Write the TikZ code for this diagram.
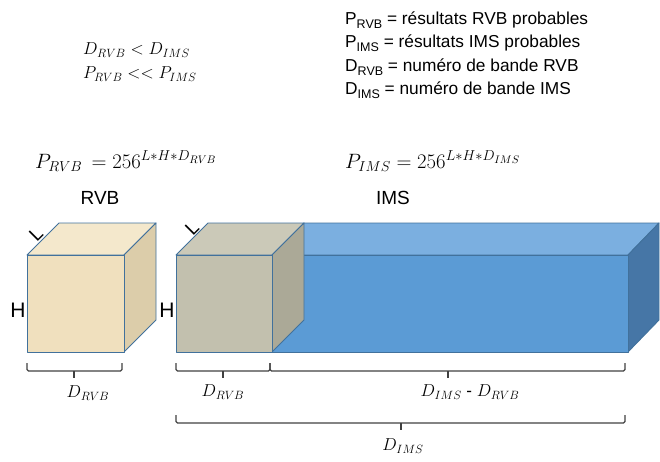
\documentclass[tikz,border=0pt]{standalone}
\usepackage{fontspec}
\setmainfont{Liberation Sans}
\newcommand\lsub[1]{\raisebox{-0.4ex}{\fontsize{12.5}{12.5}\selectfont #1}}
\definecolor{edge}{HTML}{41719C}
\definecolor{beigeF}{HTML}{F0E0BE}
\definecolor{beigeT}{HTML}{F4E8CC}
\definecolor{beigeR}{HTML}{DCCDAA}
\definecolor{grayF}{HTML}{C2C0AE}
\definecolor{grayT}{HTML}{CBC9B8}
\definecolor{grayR}{HTML}{ABA997}
\definecolor{blueF}{HTML}{5B9BD5}
\definecolor{blueT}{HTML}{7BAFE0}
\definecolor{blueR}{HTML}{4676A6}
\definecolor{brk}{HTML}{404040}
\tikzset{
  face/.style={draw=edge, line width=0.9pt, line join=round},
  legend/.style={anchor=west, inner sep=0pt, font=\fontsize{17.3}{20}\selectfont},
  mathlbl/.style={inner sep=0pt, font=\fontsize{17}{17}\selectfont},
  biglbl/.style={inner sep=0pt, font=\fontsize{22}{22}\selectfont},
  ttl/.style={inner sep=0pt, font=\fontsize{19}{19}\selectfont},
  sidelbl/.style={inner sep=0pt, font=\fontsize{21}{21}\selectfont},
  bracket/.style={draw=brk, line width=1.3pt, rounded corners=1.5pt}
}
\begin{document}
\begin{tikzpicture}[x=1pt,y=-1pt]
\useasboundingbox (0,0) rectangle (660,461);
% legend
\node[legend] (l1) at (345,20) {P\lsub{RVB} = résultats RVB probables};
\node[legend] (l2) at (345,43) {P\lsub{IMS} = résultats IMS probables};
\node[legend] (l3) at (345,67) {D\lsub{RVB} = numéro de bande RVB};
\node[legend] (l4) at (345,90) {D\lsub{IMS} = numéro de bande IMS};
% relations
\node[mathlbl, anchor=west] (r1) at (83,50) {$D_{RVB} < D_{IMS}$};
\node[mathlbl, anchor=west] (r2) at (83,74) {$P_{RVB} << P_{IMS}$};
% formulas
\node[biglbl, anchor=west] (f1) at (35,161) {$P_{RVB} \,= 256^{L*H*D_{RVB}}$};
\node[biglbl, anchor=west] (f2) at (345,161) {$P_{IMS} = 256^{L*H*D_{IMS}}$};
% titles
\node[ttl] (t1) at (100,198) {RVB};
\node[ttl] (t2) at (393,198) {IMS};
% RVB cube
\filldraw[face, fill=beigeT] (27,255) -- (59,223) -- (156,223) -- (124,255) -- cycle;
\filldraw[face, fill=beigeR] (124,255) -- (156,223) -- (156,320) -- (124,352) -- cycle;
\filldraw[face, fill=beigeF] (27,255) rectangle (124,352);
% IMS blue box
\filldraw[face, fill=blueT] (272,255) -- (304,223) -- (659,223) -- (628,255) -- cycle;
\filldraw[face, fill=blueR] (628,255) -- (659,223) -- (659,320) -- (628,352) -- cycle;
\filldraw[face, fill=blueF] (272,255) rectangle (628,352);
% gray cube
\filldraw[face, fill=grayT] (176,255) -- (208,223) -- (304,223) -- (272,255) -- cycle;
\filldraw[face, fill=grayR] (272,255) -- (304,223) -- (304,320) -- (272,352) -- cycle;
\filldraw[face, fill=grayF] (176,255) rectangle (272,352);
% side labels
\node[ttl, rotate=45] (L1) at (36,234) {L};
\node[ttl, rotate=45] (L2) at (192,228) {L};
\node[sidelbl] (H1) at (18,310) {H};
\node[sidelbl] (H2) at (167,310) {H};
% brackets
\coordinate (b1a) at (27,363); \coordinate (b1b) at (122,363);
\draw[bracket] (b1a) -- (27,371) -- (122,371) -- (b1b);
\draw[bracket] (74,371) -- (74,378);
\coordinate (b2a) at (176,363); \coordinate (b2b) at (270,363);
\draw[bracket] (b2a) -- (176,371) -- (270,371) -- (b2b);
\draw[bracket] (223,371) -- (223,378);
\coordinate (b3a) at (270,363); \coordinate (b3b) at (625,363);
\draw[bracket] (b3a) -- (270,371) -- (625,371) -- (b3b);
\draw[bracket] (448,371) -- (448,378);
\coordinate (b4a) at (176,415); \coordinate (b4b) at (625,415);
\draw[bracket] (b4a) -- (176,423) -- (625,423) -- (b4b);
\draw[bracket] (401,423) -- (401,430);
% bracket labels
\node[mathlbl] (d1) at (88,393) {$D_{RVB}$};
\node[mathlbl] (d2) at (223,392) {$D_{RVB}$};
\node[mathlbl] (d3) at (470,392) {$D_{IMS}$ - $D_{RVB}$};
\node[mathlbl] (d4) at (403,446) {$D_{IMS}$};
\end{tikzpicture}
\end{document}
